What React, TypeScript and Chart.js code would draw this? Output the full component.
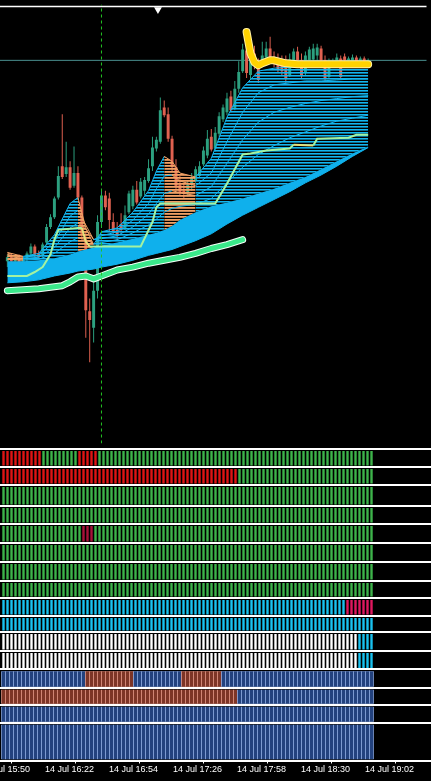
import React, { useEffect, useRef } from "react";
import { Chart, registerables } from "chart.js";

Chart.register(...registerables);

// ---------------- DATA ----------------
// bar index k = one 2-minute candle (k = 0 -> 14 Jul 16:02)
const candleOpen = [188,192,188,191,187,190,196,203,196,193,207,223,233,253,285,277,284,265,278,253,210,137,120,158,228,255,252,228,220,226,222,238,244,261,254,260,270,285,303,310,345,338,313,284,266,260,258,266,270,275,287,296,315,303,318,333,340,356,344,364,382,403,378,400,388,388,396,405,394,392,390,388,378,392,402,393,380,393,394,398,405,393,376,390,392,395,397,393,392,396,390,395,392];
const candleHigh = [195,196,194,195,192,198,206,205,199,207,226,236,254,285,338,310,290,305,285,255,218,150,170,235,260,260,258,237,228,237,245,260,265,270,273,274,292,315,315,355,352,345,316,292,275,268,270,278,285,290,305,322,323,325,340,348,360,362,372,392,410,413,398,408,395,412,412,417,402,400,398,398,400,405,407,400,402,407,410,410,408,398,395,395,400,398,400,397,399,398,397,397,395];
const candleLow = [182,184,182,183,180,188,194,192,190,192,204,221,231,251,272,274,261,263,251,210,110,85,105,150,222,240,218,216,210,217,220,236,241,246,252,255,268,280,300,308,335,310,280,260,255,252,254,260,268,273,285,293,300,300,315,330,337,340,342,360,380,375,374,384,370,386,388,390,386,380,378,370,376,388,390,375,378,390,392,392,390,372,374,387,390,374,390,390,390,388,388,388,389];
const candleClose = [192,188,191,187,190,196,203,195,192,205,223,233,252,275,274,284,263,278,253,215,138,128,158,228,255,243,230,218,214,220,235,257,261,248,269,271,283,304,312,342,337,313,284,264,258,257,266,274,282,285,301,313,302,319,336,345,354,342,364,381,404,380,392,388,373,398,405,394,392,384,382,374,394,402,393,378,398,404,405,406,393,374,390,392,396,376,393,395,396,392,395,392,393];

// moving-average ribbon, sampled at these bars
const ribbonBars = [0,4,8,12,16,18,20,22,24,28,32,36,38,40,42,44,48,52,56,60,64,68,72,76,80,84,88,92];
const ribbonTop = [197,193,196,215,247,253,222,205,218,222,238,260,280,295,290,278,274,293,335,365,382,385,386,386,386,386,386,386];
const ribbonLineA = [195,192,194,208,234,240,225,210,214,218,230,247,262,275,276,270,265,278,310,340,360,368,370,372,372,373,374,374];
const ribbonLineB = [193,191,192,202,222,227,221,210,211,214,223,236,247,257,260,258,255,264,288,312,330,340,345,349,352,354,356,357];
const ribbonLineC = [190,189,190,196,208,212,210,206,207,210,217,225,231,238,242,244,246,252,268,284,297,306,314,320,326,331,334,337];
const ribbonDense = [188,188,189,191,195,198,200,202,204,207,211,215,217,220,224,230,238,244,248,252,257,262,268,274,282,290,298,305];
const ribbonBottom = [166,167,169,173,176,178,179,180,182,185,189,194,196,198,200,203,209,216,226,235,243,251,259,268,276,285,295,304];

// [bar, value] pairs
const signalLine: [number, number][] = [[0,173],[5,173],[7,177],[9,182],[11,195],[12,210],[13,220],[18,222],[19,222],[20,208],[21,203],[34,203],[37,228],[38,243],[39,247],[53,247],[56,267],[60,297],[62,298],[66,301],[72,303],[73,307],[78,306],[79,313],[87,314],[89,317],[92,317]];
const slowMaLine: [number, number][] = [[0,158],[4,159],[8,160],[12,162],[14,163],[16,167],[18,172],[20,173],[22,170],[24,173],[28,179],[32,182],[36,186],[40,189],[44,192],[48,196],[52,201],[56,205],[60,210]];
const levelLine: [number, number][] = [[61,422],[62,400],[63,391],[64,388],[65,390],[67,393],[68,393],[71,390],[74,389],[92,389]];

const bidPrice = 393;
const windowTopPrice = 448;
const crosshairBar = 24;
const shiftMarker = { bar: 38.4, price: 445 };

// indicator strips: run-length [state, count]
// g green, r red, c crimson, b sky, m magenta, w white, n navy, o rust
const stripRows: [string, number][][] = [
  [["r",10],["g",9],["r",5],["g",69]],
  [["r",59],["g",34]],
  [["g",93]],
  [["g",93]],
  [["g",20],["c",3],["g",70]],
  [["g",93]],
  [["g",93]],
  [["g",93]],
  [["b",86],["m",7]],
  [["b",93]],
  [["w",89],["b",4]],
  [["w",89],["b",4]],
  [["n",21],["o",12],["n",12],["o",10],["n",38]],
  [["o",59],["n",34]],
  [["n",93]],
  [["n",93]],
];

const timeTickBars = [-6, 10, 26, 42, 58, 74, 90];
const timeLabels = ["14 Jul 15:50","14 Jul 16:22","14 Jul 16:54","14 Jul 17:26","14 Jul 17:58","14 Jul 18:30","14 Jul 19:02"];

// ---------------- LAYOUT / STYLE ----------------
const X_MIN = -8.375;
const X_MAX = 106.875;
const Y_MIN = 2;
const Y_MAX = 450;
const SHIFT = 30;
const CANVAS_W = 461;
const MAIN_H = 448;
const IND_H = 333;
const rowHeights = [18,18,21,18,19,19,19,17,18,16,19,18.5,18.5,17,18,37.5];

const UP = "#2ca07f";
const DOWN = "#e06150";
const BLUE = "#12b5ef";
const ORANGE = "#f2a064";
const stripColors: Record<string, string> = {
  g: "#3db34a", r: "#e01414", c: "#a8123a", b: "#19c2f0", m: "#e0185f", w: "#ffffff",
  n: "#23427e", o: "#7d3526",
};
const stripLight: Record<string, string> = { n: "#809fd8", o: "#d68a78" };

const falling = (c: any) => c.p1.parsed.y < c.p0.parsed.y;

function stripePattern(ctx: CanvasRenderingContext2D, color: string, alpha: number) {
  const t = document.createElement("canvas");
  t.width = 4; t.height = 3;
  const g = t.getContext("2d")!;
  g.fillStyle = color;
  g.fillRect(0, 0, 4, 1);
  g.globalAlpha = alpha;
  g.fillRect(0, 1, 4, 1);
  return ctx.createPattern(t, "repeat") as CanvasPattern;
}

function buildMain(canvas: HTMLCanvasElement) {
  const ctx = canvas.getContext("2d")!;
  const bluePat = stripePattern(ctx, BLUE, 0.6);
  const orangePat = stripePattern(ctx, ORANGE, 0.8);
  const ds: any[] = [];
  const add = (d: any) => { ds.push(d); return ds.length - 1; };
  const line = (extra: any) => ({ type: "line", pointRadius: 0, tension: 0, fill: false, ...extra });
  const pts = (arr: number[]) => ribbonBars.map((k, i) => ({ x: k, y: arr[i] }));
  const pairs = (arr: [number, number][]) => arr.map(([x, y]) => ({ x, y }));

  add(line({ data: [{ x: crosshairBar, y: Y_MIN }, { x: crosshairBar, y: Y_MAX }], borderColor: "#22c322", borderWidth: 1, borderDash: [3, 3], order: 1 }));
  add(line({ data: [{ x: X_MIN - 2, y: windowTopPrice }, { x: X_MAX + 2, y: windowTopPrice }], borderColor: "#ffffff", borderWidth: 1.5, order: 2 }));
  add(line({ data: [{ x: shiftMarker.bar, y: shiftMarker.price }], showLine: false, pointRadius: 4.5, pointStyle: "triangle", rotation: 180, pointBackgroundColor: "#ffffff", pointBorderColor: "#ffffff", pointBorderWidth: 0, order: 2 }));
  add(line({ data: pairs(levelLine), borderColor: "#ffd200", borderWidth: 6, borderCapStyle: "round", borderJoinStyle: "round", order: 3 }));
  add(line({ data: pairs(levelLine), borderColor: "#fff0a0", borderWidth: 8, borderCapStyle: "round", borderJoinStyle: "round", order: 4 }));
  add(line({ data: pairs(slowMaLine), borderColor: "#3ae88a", borderWidth: 5, borderCapStyle: "round", borderJoinStyle: "round", order: 5 }));
  add(line({ data: pairs(slowMaLine), borderColor: "#f4fff8", borderWidth: 7, borderCapStyle: "round", borderJoinStyle: "round", order: 6 }));
  add(line({ data: pairs(signalLine), borderColor: "#a4f2a0", borderWidth: 2, segment: { borderColor: (c: any) => (falling(c) ? "#e4e07a" : undefined) }, order: 7 }));
  [ribbonLineA, ribbonLineB, ribbonLineC].forEach((arr) =>
    add(line({ data: pts(arr), borderColor: BLUE, borderWidth: 1, segment: { borderColor: (c: any) => (falling(c) ? ORANGE : undefined) }, order: 8 }))
  );
  const iBottom = add(line({ data: pts(ribbonBottom), borderColor: BLUE, borderWidth: 1, order: 11 }));
  const iDense = add(line({ data: pts(ribbonDense), borderColor: "rgba(0,0,0,0)", borderWidth: 0, backgroundColor: "#0fb0ec", fill: { target: iBottom }, order: 9 }));
  add(line({
    data: pts(ribbonTop), borderColor: BLUE, borderWidth: 1, backgroundColor: bluePat,
    fill: { target: iDense },
    segment: {
      borderColor: (c: any) => (falling(c) ? ORANGE : undefined),
      backgroundColor: (c: any) => (falling(c) ? orangePat : undefined),
    },
    order: 10,
  }));
  const colors = candleOpen.map((o, i) => (candleClose[i] >= o ? UP : DOWN));
  add({ type: "bar", data: candleOpen.map((o, i) => ({ x: i, y: [o, candleClose[i]] })), backgroundColor: colors, barPercentage: 0.75, categoryPercentage: 1, grouped: false, order: 12 });
  add({ type: "bar", data: candleHigh.map((h, i) => ({ x: i, y: [candleLow[i], h] })), backgroundColor: colors, barPercentage: 0.25, categoryPercentage: 1, grouped: false, order: 13 });
  add(line({ data: [{ x: X_MIN - 2, y: bidPrice }, { x: X_MAX + 2, y: bidPrice }], borderColor: "#4a8f8f", borderWidth: 1, order: 14 }));

  return new Chart(canvas, {
    type: "bar",
    data: { datasets: ds },
    options: {
      animation: false,
      responsive: false,
      events: [],
      layout: { padding: 0 },
      plugins: { legend: { display: false }, tooltip: { enabled: false } },
      scales: {
        x: { type: "linear", min: X_MIN, max: X_MAX, display: false, offset: false },
        y: { type: "linear", min: Y_MIN, max: Y_MAX, display: false },
      },
    } as any,
  } as any);
}

function buildStrips(canvas: HTMLCanvasElement) {
  const edges = [0];
  rowHeights.forEach((h) => edges.push(edges[edges.length - 1] + h));
  const total = edges[edges.length - 1];
  const ds: any[] = [];
  stripRows.forEach((row, r) => {
    const states: string[] = [];
    row.forEach(([s, n]) => { for (let i = 0; i < n; i++) states.push(s); });
    const lo = edges[r] + 2;
    const hi = edges[r + 1] - 1.5;
    const data = states.map((_, k) => ({ x: k, y: [lo, hi] }));
    const striped = states.some((s) => stripLight[s]);
    if (striped) {
      ds.push({ type: "bar", data, backgroundColor: states.map((s) => stripLight[s] || stripColors[s]), barPercentage: 1, categoryPercentage: 1, grouped: false, order: 2 });
      ds.push({ type: "bar", data, backgroundColor: states.map((s) => stripColors[s]), barPercentage: 0.75, categoryPercentage: 1, grouped: false, order: 1 });
    } else {
      ds.push({ type: "bar", data, backgroundColor: states.map((s) => stripColors[s]), barPercentage: 0.6, categoryPercentage: 1, grouped: false, order: 1 });
    }
  });
  return new Chart(canvas, {
    type: "bar",
    data: { datasets: ds },
    options: {
      animation: false,
      responsive: false,
      events: [],
      layout: { padding: { top: 1, left: 0, right: 0, bottom: 0 } },
      plugins: { legend: { display: false }, tooltip: { enabled: false } },
      scales: {
        x: {
          type: "linear", min: X_MIN, max: X_MAX, offset: false,
          afterBuildTicks: (s: any) => { s.ticks = timeTickBars.map((v) => ({ value: v })); },
          afterFit: (s: any) => { s.height = 20.5; },
          ticks: {
            autoSkip: false, maxRotation: 0, minRotation: 0, align: "start", padding: 1, labelOffset: 1.5,
            color: "#ffffff",
            font: { family: "'Liberation Sans', Arial, sans-serif", size: 9 },
            callback: (_v: any, i: number) => timeLabels[i],
          },
          grid: { drawOnChartArea: false, drawTicks: true, tickLength: 3, color: "#ffffff", lineWidth: 1 },
          border: { display: true, color: "#ffffff", width: 1 },
        },
        y: {
          type: "linear", min: 0, max: total, reverse: true,
          afterBuildTicks: (s: any) => { s.ticks = edges.map((v) => ({ value: v })); },
          afterFit: (s: any) => { s.width = 0; },
          ticks: { display: false },
          grid: { color: "#ffffff", lineWidth: 2, drawTicks: false },
          border: { display: false },
        },
      },
    } as any,
  } as any);
}

export default function App() {
  const mainRef = useRef<HTMLCanvasElement>(null);
  const stripRef = useRef<HTMLCanvasElement>(null);
  useEffect(() => {
    document.body.style.margin = "0";
    document.body.style.background = "#000";
    const a = buildMain(mainRef.current!);
    const b = buildStrips(stripRef.current!);
    return () => { a.destroy(); b.destroy(); };
  }, []);
  return (
    <div style={{ position: "relative", width: 431, height: 781, overflow: "hidden", background: "#000" }}>
      <canvas ref={mainRef} width={CANVAS_W} height={MAIN_H} style={{ position: "absolute", left: -SHIFT, top: 0, width: CANVAS_W, height: MAIN_H }} />
      <canvas ref={stripRef} width={CANVAS_W} height={IND_H} style={{ position: "absolute", left: -SHIFT, top: MAIN_H, width: CANVAS_W, height: IND_H }} />
    </div>
  );
}
